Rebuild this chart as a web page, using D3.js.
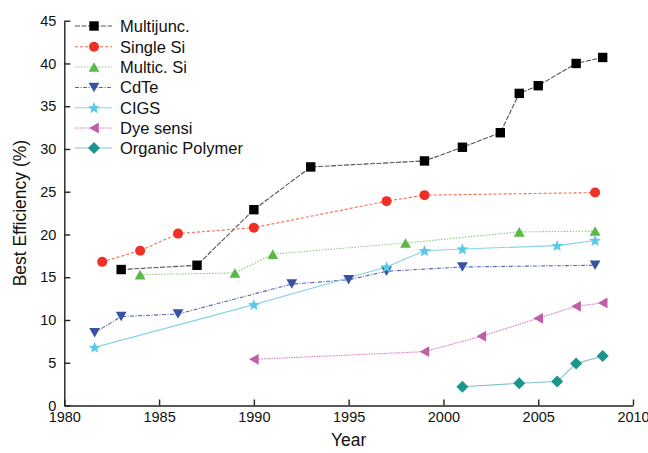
<!DOCTYPE html>
<html><head><meta charset="utf-8">
<script src="https://cdn.jsdelivr.net/npm/d3@7"></script>
<style>body{margin:0;background:#fff}svg{display:block}text{font-family:"Liberation Sans",Arial,sans-serif}</style>
</head><body><svg id="c" width="648" height="453"></svg>
<script>
const seriesNames = ["Multijunc.","Single Si","Multic. Si","CdTe","CIGS","Dye sensi","Organic Polymer"];
const multijuncYears = [1983,1987,1990,1993,1999,2001,2003,2004,2005,2007,2008.4];
const multijuncVals  = [15.9,16.4,22.9,27.9,28.6,30.2,31.9,36.5,37.4,40.0,40.7];
const singleSiYears = [1982,1984,1986,1990,1997,1999,2008];
const singleSiVals  = [16.8,18.1,20.1,20.8,23.9,24.6,24.9];
const multicSiYears = [1984,1989,1991,1998,2004,2008];
const multicSiVals  = [15.3,15.5,17.7,19.0,20.3,20.4];
const cdteYears = [1981.6,1983,1986,1992,1995,1997,2001,2008];
const cdteVals  = [8.5,10.4,10.7,14.2,14.7,15.7,16.2,16.4];
const cigsYears = [1981.6,1990,1997,1999,2001,2006,2008];
const cigsVals  = [6.8,11.8,16.2,18.1,18.3,18.7,19.3];
const dyeYears = [1990,1999,2002,2005,2007,2008.4];
const dyeVals  = [5.4,6.3,8.1,10.2,11.6,12.0];
const organicYears = [2001,2004,2006,2007,2008.4];
const organicVals  = [2.2,2.6,2.8,4.9,5.8];
const xTicks = [1980,1985,1990,1995,2000,2005,2010];
const yTicks = [0,5,10,15,20,25,30,35,40,45];

const styles = [
  {line:"#555", dash:"5,1.5", fill:"#000", shape:"square"},
  {line:"#f26b4f", dash:"3,2", fill:"#ee3124", shape:"circle"},
  {line:"#8cc97a", dash:"1.5,1.5", fill:"#58b947", shape:"up"},
  {line:"#5565b3", dash:"4,1.5,1,1.5", fill:"#3953a4", shape:"down"},
  {line:"#86d3ea", dash:null, fill:"#5bc8e6", shape:"star"},
  {line:"#d67fc0", dash:"1.5,1", fill:"#c05ea8", shape:"left"},
  {line:"#86c2c2", dash:null, fill:"#1c958f", shape:"diamond"}
];
const years = [multijuncYears,singleSiYears,multicSiYears,cdteYears,cigsYears,dyeYears,organicYears];
const vals = [multijuncVals,singleSiVals,multicSiVals,cdteVals,cigsVals,dyeVals,organicVals];
const series = seriesNames.map((n,i)=>({name:n, style:styles[i], pts:years[i].map((y,j)=>[y,vals[i][j]])}));

const svg = d3.select("#c");
const x = d3.scaleLinear().domain([1980,2010]).range([64.3,633]);
const y = d3.scaleLinear().domain([0,45]).range([405.5,20.7]);

function shapePath(s){
  switch(s){
    case "square": return "M-4.7,-4.7H4.7V4.7H-4.7Z";
    case "circle": return "M5,0A5,5 0 1,1 -5,0A5,5 0 1,1 5,0Z";
    case "up": return "M0,-4.8L5.4,4.8L-5.4,4.8Z";
    case "down": return "M0,4.8L5.4,-4.8L-5.4,-4.8Z";
    case "left": return "M-4.8,0L4.8,-5.4L4.8,5.4Z";
    case "diamond": return "M0,-6L6,0L0,6L-6,0Z";
    case "star": {
      const pts=[]; for(let k=0;k<10;k++){const r=k%2?2.7:6.2;const a=-Math.PI/2+k*Math.PI/5;pts.push([r*Math.cos(a),r*Math.sin(a)+0.5]);}
      return "M"+pts.map(p=>p[0].toFixed(2)+","+p[1].toFixed(2)).join("L")+"Z";
    }
  }
}

// axes
const gx = svg.append("g").attr("transform",`translate(0,${y(0)})`)
  .call(d3.axisBottom(x).tickValues(xTicks).tickFormat(d3.format("d")).tickSizeInner(-6).tickSizeOuter(0).tickPadding(6));
const gy = svg.append("g").attr("transform",`translate(${x(1980)},0)`)
  .call(d3.axisLeft(y).tickValues(yTicks).tickSizeInner(-6).tickSizeOuter(0).tickPadding(8));
[gx,gy].forEach(g=>{
  g.select(".domain").attr("stroke","#222").attr("stroke-width",1.4);
  g.selectAll(".tick line").attr("stroke","#222").attr("stroke-width",1.4);
  g.selectAll(".tick text").attr("fill","#111").style("font-size","14.5px").style("font-family","Liberation Sans, Arial, sans-serif");
});
svg.append("text").attr("x",(x(1980)+x(2010))/2).attr("y",446).attr("text-anchor","middle")
  .style("font-size","17.5px").attr("fill","#111").text("Year");
svg.append("text").attr("transform",`translate(26,${(y(0)+y(45))/2}) rotate(-90)`).attr("text-anchor","middle")
  .style("font-size","17.5px").attr("fill","#111").text("Best Efficiency (%)");

const line = d3.line().x(d=>x(d[0])).y(d=>y(d[1]));
series.forEach(s=>{
  svg.append("path").datum(s.pts).attr("d",line).attr("fill","none")
    .attr("stroke",s.style.line).attr("stroke-width",1.1).attr("stroke-dasharray",s.style.dash);
});
series.forEach(s=>{
  svg.append("g").selectAll("path").data(s.pts).join("path")
    .attr("d",shapePath(s.style.shape)).attr("transform",d=>`translate(${x(d[0])},${y(d[1])})`)
    .attr("fill",s.style.fill);
});

// legend
const legY = [26,46.8,67,87.5,107.8,128,148];
const lg = svg.append("g");
series.forEach((s,i)=>{
  const yy = legY[i];
  lg.append("line").attr("x1",75).attr("x2",112).attr("y1",yy).attr("y2",yy)
    .attr("stroke",s.style.line).attr("stroke-width",1.1).attr("stroke-dasharray",s.style.dash);
  lg.append("path").attr("d",shapePath(s.style.shape)).attr("transform",`translate(94,${yy})`).attr("fill",s.style.fill);
  lg.append("text").attr("x",120).attr("y",yy).attr("dy","0.36em").style("font-size","16.5px").attr("fill","#111").text(s.name);
});
</script></body></html>
